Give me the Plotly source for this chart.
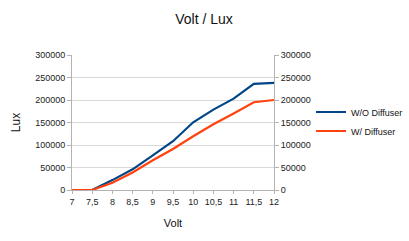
import plotly.graph_objects as go

volts = [7, 7.5, 8, 8.5, 9, 9.5, 10, 10.5, 11, 11.5, 12]
volt_labels = ["7", "7,5", "8", "8,5", "9", "9,5", "10", "10,5", "11", "11,5", "12"]
lux_without = [0, 0, 22000, 46000, 77000, 108500, 150500, 178600, 203000, 236000, 238000]
lux_with = [0, 0, 16000, 39000, 66000, 91000, 119500, 146000, 170000, 195000, 200000]
y_ticks = [0, 50000, 100000, 150000, 200000, 250000, 300000]
y_labels = [str(v) for v in y_ticks]

font = "Liberation Sans, Arial, sans-serif"
grid = "#d9d9d9"
axis_c = "#b3b3b3"

fig = go.Figure()
fig.add_trace(go.Scatter(x=volts, y=lux_without, mode="lines", name="W/O Diffuser",
                         line=dict(color="#004586", width=2.2)))
fig.add_trace(go.Scatter(x=volts, y=lux_with, mode="lines", name="W/ Diffuser",
                         line=dict(color="#ff420e", width=2.2)))
# invisible trace to draw the mirrored right axis
fig.add_trace(go.Scatter(x=volts, y=lux_with, mode="lines", yaxis="y2", showlegend=False,
                         hoverinfo="skip", line=dict(width=0, color="rgba(0,0,0,0)")))

fig.update_layout(
    width=409, height=241,
    margin=dict(l=72, r=135, t=55, b=51),
    paper_bgcolor="white", plot_bgcolor="white",
    font=dict(family=font, size=9, color="#222222"),
    title=dict(text="Volt / Lux", x=204/409, xanchor="center", y=1 - 19/241, yanchor="middle",
               font=dict(family=font, size=14, color="#111111")),
    xaxis=dict(range=[7, 12], tickmode="array", tickvals=volts, ticktext=volt_labels,
               showgrid=False, zeroline=False, showline=True, linecolor=axis_c, linewidth=1,
               ticks="outside", ticklen=3, tickcolor=axis_c, automargin=False,
               title=dict(text="Volt", font=dict(size=11, color="#111111"), standoff=13),
               tickfont=dict(size=9, color="#222222")),
    yaxis=dict(range=[0, 300000], tickmode="array", tickvals=y_ticks, ticktext=y_labels,
               showgrid=True, gridcolor=grid, zeroline=False, showline=True, linecolor=axis_c,
               ticks="outside", ticklen=4, tickcolor=axis_c, automargin=False,
               title=dict(text="Lux", font=dict(size=12, color="#111111"), standoff=11),
               tickfont=dict(size=9, color="#222222")),
    yaxis2=dict(range=[0, 300000], tickmode="array", tickvals=y_ticks, ticktext=y_labels,
                overlaying="y", side="right", automargin=False,
                showgrid=False, zeroline=False, showline=True, linecolor=axis_c,
                ticks="outside", ticklen=4, tickcolor=axis_c,
                tickfont=dict(size=9, color="#222222")),
    legend=dict(xref="container", x=311 / 409, xanchor="left",
                yref="container", y=1 - 121.5 / 241, yanchor="middle",
                font=dict(size=9, color="#111111"), itemwidth=30, bgcolor="rgba(0,0,0,0)",
                tracegroupgap=0),
    showlegend=True,
)

fig.write_html("out.html")
